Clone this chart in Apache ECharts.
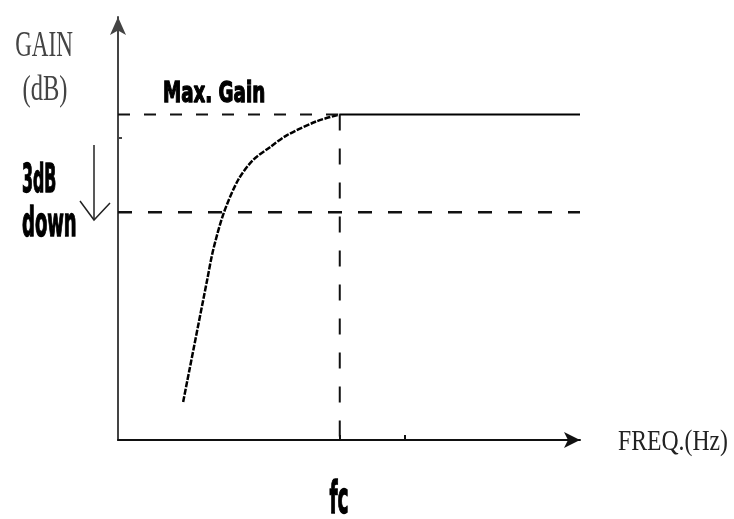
<!DOCTYPE html>
<html>
<head>
<meta charset="utf-8">
<script src="https://cdn.jsdelivr.net/npm/echarts@6/dist/echarts.min.js"></script>
<style>html,body{margin:0;padding:0;background:#fff}#c{width:734px;height:519px}</style>
</head>
<body>
<div id="c"></div>
<script>
// Frequency (arbitrary units) and gain (dB, relative to max gain)
var fc = 4.8;
var maxGain = 0;
var downGain = -3;
var curveFreq = [1.41, 1.93, 2.06, 2.29, 2.60, 2.92, 3.29, 3.66, 4.31, 4.80];
var curveGain = [-8.83, -5.08, -4.16, -3.02, -2.01, -1.40, -1.00, -0.63, -0.20, 0];
var flatFreq = [4.8, 10];
var xTicks = [4.8, 6.2];
var yTicks = [-0.7];

var curve = curveFreq.map(function (f, i) { return [f, curveGain[i]]; });
var flat = flatFreq.map(function (f) { return [f, maxGain]; });

var chart = echarts.init(document.getElementById('c'));
function bf(s) { return "bold " + s + "px 'Liberation Sans Narrow', 'DejaVu Sans Condensed', 'Liberation Sans', sans-serif"; }
function sf(s) { return s + "px 'Liberation Serif', 'DejaVu Serif', serif"; }
function boldText(txt, x, y, size, sx, align) {
  return { type: 'text', x: x, y: y, scaleX: sx, style: { text: txt, font: bf(size), fill: '#000', stroke: '#000', lineWidth: 1.3, align: align || 'left', verticalAlign: 'middle' } };
}

chart.setOption({
  animation: false,
  backgroundColor: '#fff',
  grid: { left: 118, right: 154, top: 17, bottom: 79 },
  xAxis: {
    type: 'value', min: 0, max: 10,
    splitLine: { show: false },
    axisLabel: { show: false },
    axisTick: { show: true, customValues: xTicks, length: 5, inside: true, lineStyle: { color: '#111', width: 2 } },
    axisLine: { show: true, onZero: false, symbol: ['none', 'arrow'], symbolSize: [12, 16], lineStyle: { color: '#111', width: 2 } }
  },
  yAxis: {
    type: 'value', min: -10, max: 3,
    splitLine: { show: false },
    axisLabel: { show: false },
    axisTick: { show: true, customValues: yTicks, length: 4, inside: true, lineStyle: { color: '#444', width: 2 } },
    axisLine: { show: true, onZero: false, symbol: ['none', 'arrow'], symbolSize: [12, 18], lineStyle: { color: '#444', width: 2 } }
  },
  series: [
    { type: 'line', data: curve, smooth: 0.3, showSymbol: false, lineStyle: { color: '#000', width: 2.5, type: [6, 1.5] } },
    { type: 'line', data: flat, showSymbol: false, lineStyle: { color: '#000', width: 2 } },
    { type: 'line', data: [[0, maxGain], [fc, maxGain]], showSymbol: false, lineStyle: { color: '#111', width: 2, type: [12, 14] } },
    { type: 'line', data: [[0, downGain], [10, downGain]], showSymbol: false, lineStyle: { color: '#111', width: 2.5, type: [14, 16] } },
    { type: 'line', data: [[fc, maxGain], [fc, -10]], showSymbol: false, lineStyle: { color: '#111', width: 2, type: [16, 18] } }
  ],
  graphic: [
    { type: 'text', x: 44, y: 47, scaleX: 0.66, style: { text: 'GAIN', font: sf(35), fill: '#444', align: 'center', verticalAlign: 'middle' } },
    { type: 'text', x: 45, y: 91, scaleX: 0.7, style: { text: '(dB)', font: sf(35), fill: '#444', align: 'center', verticalAlign: 'middle' } },
    boldText('Max. Gain', 163, 94, 29, 0.70),
    boldText('3dB', 22, 182, 39, 0.45),
    boldText('down', 22, 226, 40, 0.50),
    boldText('fc', 339, 502, 44, 0.47, 'center'),
    { type: 'text', x: 618, y: 442, scaleX: 0.79, style: { text: 'FREQ.(Hz)', font: sf(30), fill: '#222', align: 'left', verticalAlign: 'middle' } },
    { type: 'polyline', shape: { points: [[94, 145], [94, 220]] }, style: { stroke: '#222', lineWidth: 1.5, fill: null } },
    { type: 'polyline', shape: { points: [[80, 201], [94, 220], [110, 203]] }, style: { stroke: '#222', lineWidth: 1.5, fill: null } }
  ]
});
</script>
</body>
</html>
